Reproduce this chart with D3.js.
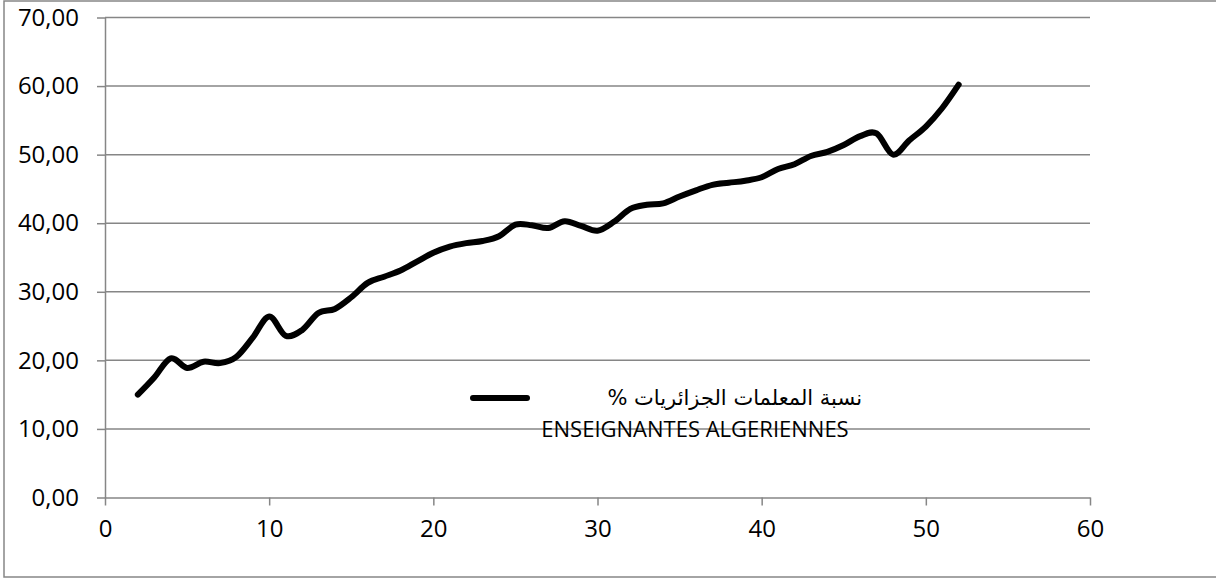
<!DOCTYPE html>
<html>
<head>
<meta charset="utf-8">
<script src="https://cdn.jsdelivr.net/npm/d3@7"></script>
<style>
	body { margin: 0; background: #fff; }
	svg text { font-family: "Open Sans", sans-serif; fill: #000; }
</style>
</head>
<body>
<svg id="graph"></svg>
<script>
// rank of the year (x) and share of Algerian women teachers (%)
var years = [ 2, 3, 4, 5, 6, 7, 8, 9, 10, 11, 12, 13, 14, 15, 16, 17, 18, 19, 20, 21,
	22, 23, 24, 25, 26, 27, 28, 29, 30, 31, 32, 33, 34, 35, 36, 37, 38, 39, 40, 41,
	42, 43, 44, 45, 46, 47, 48, 49, 50, 51, 52 ];
var share = [ 15.0, 17.5, 20.3, 18.9, 19.8, 19.6, 20.5, 23.3, 26.4, 23.6, 24.4, 26.9, 27.5, 29.2, 31.3, 32.2, 33.1, 34.4, 35.7, 36.6,
	37.1, 37.4, 38.1, 39.8, 39.7, 39.3, 40.3, 39.6, 38.9, 40.2, 42.1, 42.7, 42.9, 43.9, 44.8, 45.6, 45.9, 46.2, 46.7, 47.9,
	48.6, 49.8, 50.4, 51.4, 52.7, 53.1, 50.0, 52.1, 54.1, 56.8, 60.2 ];

var x_ticks = [ 0, 10, 20, 30, 40, 50, 60 ];
var y_ticks = [ 0, 10, 20, 30, 40, 50, 60, 70 ];

var legend_ar = "نسبة المعلمات الجزائريات %";
var legend_fr = "ENSEIGNANTES ALGERIENNES";

var W = 1216, H = 578;
var margin = { top : 17.5, right : 126, bottom : 80.5, left : 105 };
var width  = W - margin.left - margin.right;
var height = H - margin.top  - margin.bottom;

var grey = "#868686";

var svg = d3.select( "#graph" )
		.attr( "width" , W )
		.attr( "height", H );

// outer frame
svg.append( "rect" )
	.attr( "x", 4 ).attr( "y", 1 )
	.attr( "width", W ).attr( "height", H - 2 )
	.attr( "fill", "none" )
	.attr( "stroke", grey )
	.attr( "stroke-width", 1.5 );

var g = svg.append( "g" )
	.attr( "transform", "translate(" + margin.left + "," + margin.top + ")" );

var x = d3.scaleLinear().domain([ 0, 60 ]).range([ 0, width  ]);
var y = d3.scaleLinear().domain([ 0, 70 ]).range([ height, 0 ]);

var comma = d3.formatLocale({ decimal : ",", thousands : " ", grouping : [3], currency : ["", ""] }).format( ".2f" );

// horizontal grid lines
g.append( "g" )
	.selectAll( "line" )
	.data( y_ticks.slice( 1 ) )
	.enter()
	.append( "line" )
		.attr( "x1", 0 ).attr( "x2", width )
		.attr( "y1", function(d){ return y( d ); } )
		.attr( "y2", function(d){ return y( d ); } )
		.attr( "stroke", grey )
		.attr( "stroke-width", 1.5 );

// Add the Y Axis
var y_axis = d3.axisLeft().scale( y ).tickValues( y_ticks ).tickFormat( comma ).tickSizeInner( 8 ).tickSizeOuter( 0 ).tickPadding( 18 );
g.append( "g" )
	.attr( "class", "y axis" )
	.call( y_axis );

// Add the X Axis
var x_axis = d3.axisBottom().scale( x ).tickValues( x_ticks ).tickFormat(function(d){ return d; }).tickSizeInner( 8 ).tickSizeOuter( 0 ).tickPadding( 14 );
g.append( "g" )
	.attr( "class", "x axis" )
	.attr( "transform", "translate(0," + height + ")" )
	.call( x_axis );

g.selectAll( ".axis path, .axis line" )
	.attr( "stroke", grey )
	.attr( "stroke-width", 1.5 );
g.selectAll( ".axis text" )
	.style( "font-family", "'Open Sans', sans-serif" )
	.style( "font-size", "24px" )
	.attr( "fill", "#000" );

// Plot the line
var line = d3.line()
	.curve( d3.curveCardinal.tension( 0 ) )
	.x(function(d, i){ return x( years[i] ); })
	.y(function(d){ return y( d ); });

g.append( "path" )
	.attr( "d", line( share ) )
	.attr( "fill", "none" )
	.attr( "stroke", "#000" )
	.attr( "stroke-width", 6 )
	.attr( "stroke-linecap", "round" )
	.attr( "stroke-linejoin", "round" );

// legend
svg.append( "line" )
	.attr( "x1", 473 ).attr( "x2", 527 )
	.attr( "y1", 398 ).attr( "y2", 398 )
	.attr( "stroke", "#000" )
	.attr( "stroke-width", 6 )
	.attr( "stroke-linecap", "round" );

svg.append( "text" )
	.attr( "x", 862 ).attr( "y", 405 )
	.attr( "direction", "rtl" )
	.attr( "text-anchor", "start" )
	.style( "font-family", "'DejaVu Sans', sans-serif" )
	.style( "font-size", "21px" )
	.text( legend_ar );

svg.append( "text" )
	.attr( "x", 695 ).attr( "y", 437 )
	.attr( "text-anchor", "middle" )
	.style( "font-size", "22px" )
	.text( legend_fr );
</script>
</body>
</html>
